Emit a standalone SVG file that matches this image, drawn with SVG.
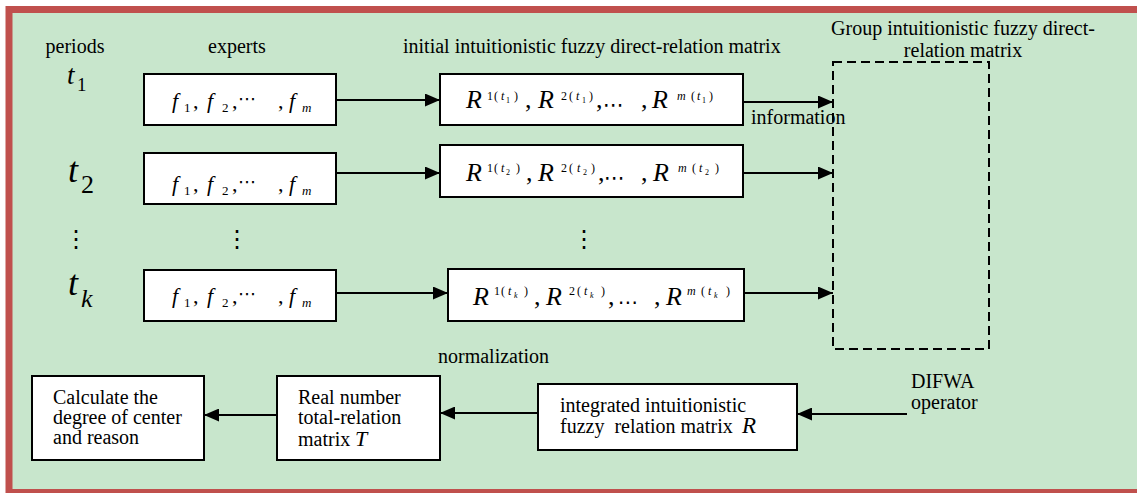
<svg xmlns="http://www.w3.org/2000/svg" width="1137" height="493" viewBox="0 0 1137 493">
<style>
text{font-family:"Liberation Serif","Times New Roman",serif;fill:#000}
.lbl{font-size:20px}
.it{font-style:italic}
.box{fill:#fff;stroke:#000;stroke-width:2}
.con{stroke:#000;stroke-width:2;fill:none}
.dots{font-family:"DejaVu Sans",sans-serif;font-size:24px}
.cd{font-family:"DejaVu Sans",sans-serif}
.rr{font-size:26px}
.sp{font-size:12px}
.ss{font-size:8px}
.ff{font-size:22px}
.fs{font-size:13px}
</style>
<defs>
<marker id="ah" markerUnits="userSpaceOnUse" markerWidth="15" markerHeight="13" refX="15" refY="6.5" orient="auto">
<path d="M0,0 L15,6.5 L0,13 z" fill="#000"/>
</marker>
</defs>
<rect x="0" y="0" width="1137" height="493" fill="#fff"/>
<rect id="frame" x="9" y="9.5" width="1140" height="483" fill="#C8E6CC" stroke="#C0504D" stroke-width="7"/>

<g id="headers">
<text class="lbl" x="75" y="53" text-anchor="middle">periods</text>
<text class="lbl" x="237" y="53" text-anchor="middle">experts</text>
<text class="lbl" x="403" y="53">initial intuitionistic fuzzy direct-relation matrix</text>
</g>

<g id="periods">
<text x="67" y="84"><tspan class="it" font-size="27px">t</tspan><tspan x="77" y="91" font-size="19px">1</tspan></text>
<text x="68" y="182"><tspan class="it" font-size="36px">t</tspan><tspan x="81" y="193" font-size="26px">2</tspan></text>
<text class="dots" x="76" y="247" text-anchor="middle">⋮</text>
<text x="68" y="295"><tspan class="it" font-size="36px">t</tspan><tspan class="it" x="81" y="307" font-size="26px">k</tspan></text>
</g>

<g id="f1">
<rect class="box" x="144" y="74" width="192" height="51"/>
<text y="108"><tspan class="it ff" x="172">f</tspan><tspan class="fs" x="184" y="112">1</tspan><tspan class="ff" x="193" y="108">,</tspan><tspan class="it ff" x="207">f</tspan><tspan class="fs" x="222" y="112">2</tspan><tspan class="ff" x="232" y="108">,</tspan><tspan class="cd" font-size="18px" x="238" y="105">⋯</tspan><tspan class="ff" x="278" y="108">,</tspan><tspan class="it ff" x="289">f</tspan><tspan class="it fs" x="302" y="112">m</tspan></text>
</g>
<g id="f2">
<rect class="box" x="144" y="153" width="192" height="51"/>
<text y="191"><tspan class="it ff" x="172">f</tspan><tspan class="fs" x="184" y="195">1</tspan><tspan class="ff" x="193" y="191">,</tspan><tspan class="it ff" x="207">f</tspan><tspan class="fs" x="222" y="195">2</tspan><tspan class="ff" x="232" y="191">,</tspan><tspan class="cd" font-size="18px" x="238" y="188">⋯</tspan><tspan class="ff" x="278" y="191">,</tspan><tspan class="it ff" x="289">f</tspan><tspan class="it fs" x="302" y="195">m</tspan></text>
</g>
<text class="dots" x="237" y="247" text-anchor="middle">⋮</text>
<g id="f3">
<rect class="box" x="144" y="270" width="192" height="51"/>
<text y="303"><tspan class="it ff" x="172">f</tspan><tspan class="fs" x="184" y="307">1</tspan><tspan class="ff" x="193" y="303">,</tspan><tspan class="it ff" x="207">f</tspan><tspan class="fs" x="222" y="307">2</tspan><tspan class="ff" x="232" y="303">,</tspan><tspan class="cd" font-size="18px" x="238" y="300">⋯</tspan><tspan class="ff" x="278" y="303">,</tspan><tspan class="it ff" x="289">f</tspan><tspan class="it fs" x="302" y="307">m</tspan></text>
</g>

<g id="r1">
<rect class="box" x="440" y="74" width="303" height="51"/>
<text y="108"><tspan class="it rr" x="466">R</tspan><tspan class="sp" x="487" y="100">1</tspan><tspan class="sp" x="494">(</tspan><tspan class="it sp" x="501">t</tspan><tspan class="ss" x="506" y="103">1</tspan><tspan class="sp" x="514" y="100">)</tspan><tspan class="rr" x="525" y="108">,</tspan><tspan class="it rr" x="538">R</tspan><tspan class="sp" x="561" y="100">2</tspan><tspan class="sp" x="569">(</tspan><tspan class="it sp" x="576">t</tspan><tspan class="ss" x="582" y="103">1</tspan><tspan class="sp" x="589" y="100">)</tspan><tspan class="rr" x="596" y="108">,</tspan><tspan class="cd" font-size="21px" x="603" y="112">⋯</tspan><tspan class="rr" x="641" y="108">,</tspan><tspan class="it rr" x="652">R</tspan><tspan class="it sp" x="677" y="100">m</tspan><tspan class="sp" x="691">(</tspan><tspan class="it sp" x="697">t</tspan><tspan class="ss" x="702" y="103">1</tspan><tspan class="sp" x="709" y="100">)</tspan></text>
</g>
<g id="r2">
<rect class="box" x="440" y="145" width="303" height="52"/>
<text y="181"><tspan class="it rr" x="466">R</tspan><tspan class="sp" x="487" y="172">1</tspan><tspan class="sp" x="494">(</tspan><tspan class="it sp" x="501">t</tspan><tspan class="ss" x="506" y="175">2</tspan><tspan class="sp" x="516" y="172">)</tspan><tspan class="rr" x="526" y="181">,</tspan><tspan class="it rr" x="538">R</tspan><tspan class="sp" x="561" y="172">2</tspan><tspan class="sp" x="569">(</tspan><tspan class="it sp" x="577">t</tspan><tspan class="ss" x="583" y="175">2</tspan><tspan class="sp" x="591" y="172">)</tspan><tspan class="rr" x="598" y="181">,</tspan><tspan class="cd" font-size="21px" x="604" y="185">⋯</tspan><tspan class="rr" x="641" y="181">,</tspan><tspan class="it rr" x="653">R</tspan><tspan class="it sp" x="678" y="172">m</tspan><tspan class="sp" x="692">(</tspan><tspan class="it sp" x="699">t</tspan><tspan class="ss" x="705" y="175">2</tspan><tspan class="sp" x="715" y="172">)</tspan></text>
</g>
<text class="dots" x="584" y="247" text-anchor="middle">⋮</text>
<g id="r3">
<rect class="box" x="448" y="269" width="296" height="52"/>
<text y="305"><tspan class="it rr" x="473">R</tspan><tspan class="sp" x="494" y="295">1</tspan><tspan class="sp" x="501">(</tspan><tspan class="it sp" x="508">t</tspan><tspan class="it ss" x="514" y="298">k</tspan><tspan class="sp" x="524" y="295">)</tspan><tspan class="rr" x="534" y="305">,</tspan><tspan class="it rr" x="546">R</tspan><tspan class="sp" x="569" y="295">2</tspan><tspan class="sp" x="577">(</tspan><tspan class="it sp" x="584">t</tspan><tspan class="it ss" x="590" y="298">k</tspan><tspan class="sp" x="601" y="295">)</tspan><tspan class="rr" x="608" y="305">,</tspan><tspan class="cd" font-size="20px" x="618" y="309">⋯</tspan><tspan class="rr" x="654" y="305">,</tspan><tspan class="it rr" x="666">R</tspan><tspan class="it sp" x="687" y="295">m</tspan><tspan class="sp" x="701">(</tspan><tspan class="it sp" x="708">t</tspan><tspan class="it ss" x="714" y="298">k</tspan><tspan class="sp" x="726" y="295">)</tspan></text>
</g>

<g id="group">
<rect x="833" y="62" width="156" height="287" fill="none" stroke="#000" stroke-width="2" stroke-dasharray="9,5"/>
<text class="lbl" x="963" y="35" text-anchor="middle">Group intuitionistic fuzzy direct-</text>
<text class="lbl" x="963" y="57" text-anchor="middle">relation matrix</text>
</g>

<g id="calc">
<rect class="box" x="32" y="376" width="172" height="84"/>
<text class="lbl" x="53" y="404">Calculate the</text>
<text class="lbl" x="53" y="424">degree of center</text>
<text class="lbl" x="53" y="444">and reason</text>
</g>
<g id="real">
<rect class="box" x="277" y="376" width="163" height="84"/>
<text class="lbl" x="298" y="404">Real number</text>
<text class="lbl" x="298" y="424">total-relation</text>
<text class="lbl" x="298" y="446">matrix <tspan class="it" x="355" font-size="22px">T</tspan></text>
</g>
<g id="integrated">
<rect class="box" x="538" y="384" width="259" height="66"/>
<text class="lbl" x="560" y="412">integrated intuitionistic</text>
<text class="lbl" x="560" y="433" xml:space="preserve">fuzzy  relation matrix <tspan class="it" x="742" font-size="23px">R</tspan></text>
</g>

<g id="labels">
<text class="lbl" x="751" y="124">information</text>
<text class="lbl" x="438" y="363">normalization</text>
<text class="lbl" x="911" y="388">DIFWA</text>
<text class="lbl" x="911" y="409">operator</text>
</g>

<g id="connectors">
<line class="con" x1="336" y1="100" x2="440" y2="100" marker-end="url(#ah)"/>
<line class="con" x1="336" y1="173" x2="440" y2="173" marker-end="url(#ah)"/>
<line class="con" x1="336" y1="293" x2="448" y2="293" marker-end="url(#ah)"/>
<line class="con" x1="743" y1="102" x2="833" y2="102" marker-end="url(#ah)"/>
<line class="con" x1="743" y1="173" x2="833" y2="173" marker-end="url(#ah)"/>
<line class="con" x1="744" y1="293" x2="833" y2="293" marker-end="url(#ah)"/>
<line class="con" x1="907" y1="414" x2="797" y2="414" marker-end="url(#ah)"/>
<line class="con" x1="538" y1="413" x2="440" y2="413" marker-end="url(#ah)"/>
<line class="con" x1="277" y1="415" x2="204" y2="415" marker-end="url(#ah)"/>
</g>
</svg>
